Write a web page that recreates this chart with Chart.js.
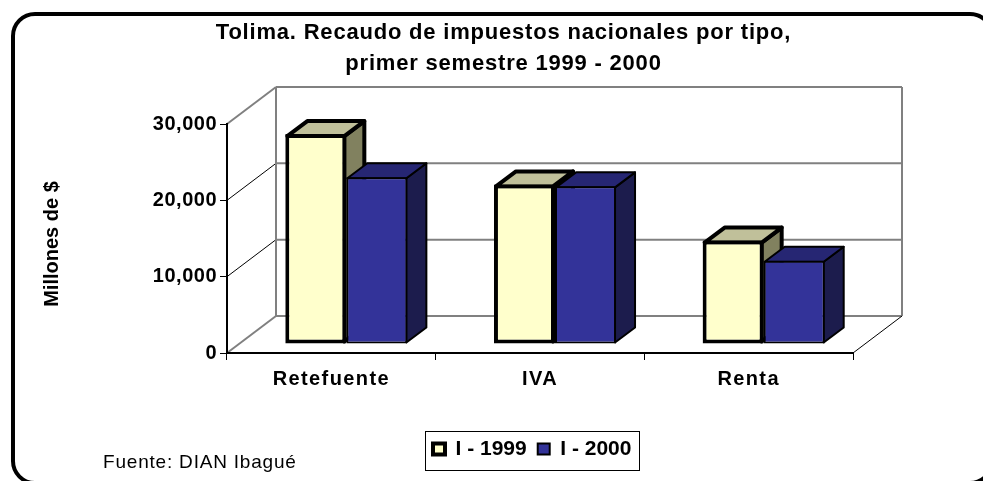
<!DOCTYPE html>
<html>
<head>
<meta charset="utf-8">
<style>html,body{margin:0;padding:0;background:#fff}canvas{display:block}</style>
<script src="https://cdn.jsdelivr.net/npm/chart.js@4"></script>
</head>
<body>
<canvas id="c" width="983" height="481"></canvas>
<script>
const categories = ["Retefuente", "IVA", "Renta"];
const series1999 = [27500, 20900, 13550];
const series2000 = [21840, 20650, 10900];
const label1999 = "I - 1999";
const label2000 = "I - 2000";
const titleLines = ["Tolima. Recaudo de impuestos nacionales por tipo,", "primer semestre 1999 - 2000"];
const yTitle = "Millones de $";
const sourceNote = "Fuente: DIAN Ibagué";
const FONT = '"Liberation Sans", Arial, sans-serif';

// 3D projection of the chart (pixels)
const WALL = {dx: 49, dy: -37};
const BARPLANE = {dx: 15, dy: -9};
const BARDEPTH = {dx: 20, dy: -15};
const faces = [
  {top: "#C0C09A", side: "#81815F", lw: 4},
  {top: "#262673", side: "#1C1C4D", lw: 2}
];

function spaced(obj, method, px, dy) {
  if (obj["_sp_" + method]) return;
  obj["_sp_" + method] = true;
  const orig = obj[method];
  obj[method] = function () {
    const ctx = this.ctx;
    ctx.save();
    ctx.letterSpacing = px + "px";
    if (dy) ctx.translate(0, dy);
    const r = orig.apply(this, arguments);
    ctx.restore();
    return r;
  };
}
function line(ctx, x1, y1, x2, y2, color, w) {
  ctx.strokeStyle = color; ctx.lineWidth = w;
  ctx.beginPath(); ctx.moveTo(x1, y1); ctx.lineTo(x2, y2); ctx.stroke();
}
function poly(ctx, pts, fill, lw) {
  ctx.beginPath();
  pts.forEach((p, i) => i ? ctx.lineTo(p[0], p[1]) : ctx.moveTo(p[0], p[1]));
  ctx.closePath();
  ctx.fillStyle = fill; ctx.fill();
  ctx.strokeStyle = "#000"; ctx.lineWidth = lw; ctx.lineJoin = "round"; ctx.stroke();
}

const threeD = {
  id: "threeD",
  afterLayout(chart) {
    const t = chart.titleBlock, l = chart.legend;
    t.left = 24; t.right = 983; t.width = 959;
    l.left = 422; l.right = 680; l.width = 258; l.top = 427.4; l.bottom = 475; l.height = 47.6;
    spaced(t, "draw", 0.8);
    spaced(chart.scales.x, "drawLabels", 1.4);
    spaced(chart.scales.y, "drawLabels", 0.5);
    spaced(chart.scales.y, "drawTitle", 0, 5.5);
  },
  beforeDraw(chart) {
    const ctx = chart.ctx, y = chart.scales.y, a = chart.chartArea;
    ctx.save();
    // frame (runs past the right and bottom edges of the picture)
    ctx.strokeStyle = "#000"; ctx.lineWidth = 4;
    ctx.beginPath(); ctx.roundRect(13, 14, 979, 469, 22); ctx.stroke();
    // back wall and gridlines
    const gx1 = a.left + WALL.dx, gx2 = a.right + WALL.dx;
    y.ticks.forEach(t => {
      const py = y.getPixelForValue(t.value);
      const edge = t.value === y.min || t.value === y.max;
      line(ctx, a.left, py, gx1, py + WALL.dy, edge ? "#808080" : "#000", edge ? 2 : 1);
      line(ctx, gx1, py + WALL.dy, gx2, py + WALL.dy, "#808080", 2);
    });
    line(ctx, gx1, a.top + WALL.dy, gx1, a.bottom + WALL.dy, "#808080", 2);
    line(ctx, gx2, a.top + WALL.dy, gx2, a.bottom + WALL.dy, "#808080", 2);
    line(ctx, a.right, a.bottom, gx2, a.bottom + WALL.dy, "#000", 1);
    ctx.restore();
  },
  beforeDatasetsDraw(chart) {
    const ctx = chart.ctx;
    ctx.save();
    ctx.translate(BARPLANE.dx, BARPLANE.dy);
    chart.data.datasets.forEach((ds, i) => {
      const f = faces[i];
      chart.getDatasetMeta(i).data.forEach(bar => {
        const p = bar.getProps(["x", "y", "base", "width"], true);
        const L = p.x - p.width / 2 + f.lw / 2, R = p.x + p.width / 2 - f.lw / 2;
        const T = p.y + f.lw / 2, B = p.base - f.lw / 2;
        const d = BARDEPTH;
        poly(ctx, [[R, T], [R + d.dx, T + d.dy], [R + d.dx, B + d.dy], [R, B]], f.side, f.lw);
        poly(ctx, [[L, T], [L + d.dx, T + d.dy], [R + d.dx, T + d.dy], [R, T]], f.top, f.lw);
      });
    });
    ctx.restore();
  },
  beforeDatasetDraw(chart) {
    chart.ctx.save();
    chart.ctx.translate(BARPLANE.dx, BARPLANE.dy);
  },
  afterDatasetDraw(chart) {
    chart.ctx.restore();
  },
  afterDraw(chart) {
    const ctx = chart.ctx;
    ctx.save();
    ctx.strokeStyle = "#000"; ctx.lineWidth = 1;
    ctx.strokeRect(425.5, 431.5, 214, 39);
    ctx.fillStyle = "#000";
    ctx.font = "19px " + FONT;
    ctx.textBaseline = "alphabetic";
    ctx.letterSpacing = "0.8px";
    ctx.fillText(sourceNote, 103, 468);
    ctx.restore();
  }
};

new Chart(document.getElementById("c"), {
  type: "bar",
  data: {
    labels: categories,
    datasets: [
      {label: label1999, data: series1999, backgroundColor: "#FFFFCC", borderColor: "#000", borderWidth: 4, borderSkipped: false},
      {label: label2000, data: series2000, backgroundColor: "#333399", borderColor: "#000", borderWidth: 2, borderSkipped: false}
    ]
  },
  plugins: [threeD],
  options: {
    responsive: false,
    animation: false,
    layout: {padding: {left: 40, right: 130, top: 0, bottom: 0}},
    datasets: {bar: {barPercentage: 1, categoryPercentage: 0.585}},
    plugins: {
      tooltip: {enabled: false},
      title: {
        display: true,
        text: titleLines,
        color: "#000",
        font: {family: FONT, size: 22, weight: "bold", lineHeight: 1.4},
        padding: {top: 17.6, bottom: 44.8}
      },
      legend: {
        display: true,
        position: "bottom",
        align: "start",
        labels: {
          color: "#000",
          boxWidth: 12,
          boxHeight: 11,
          padding: 11,
          font: {family: FONT, size: 21, weight: "bold"}
        }
      }
    },
    scales: {
      x: {
        grid: {drawOnChartArea: false, drawTicks: true, tickLength: 7, color: "#000", offset: true},
        border: {color: "#000", width: 2},
        ticks: {color: "#000", padding: 7, font: {family: FONT, size: 20, weight: "bold"}, maxRotation: 0},
        afterFit(s) { s.height = 86; }
      },
      y: {
        min: 0, max: 30000,
        grid: {drawOnChartArea: false, drawTicks: true, tickLength: 7, color: "#000"},
        border: {color: "#000", width: 2},
        ticks: {
          stepSize: 10000, color: "#000", padding: 3,
          font: {family: FONT, size: 20, weight: "bold"},
          callback: v => v.toLocaleString("en-US")
        },
        title: {display: true, text: yTitle, color: "#000", padding: {top: 0, bottom: 0}, font: {family: FONT, size: 20, weight: "bold"}},
        afterFit(s) { s.width = 187; }
      }
    }
  }
});
</script>
</body>
</html>
